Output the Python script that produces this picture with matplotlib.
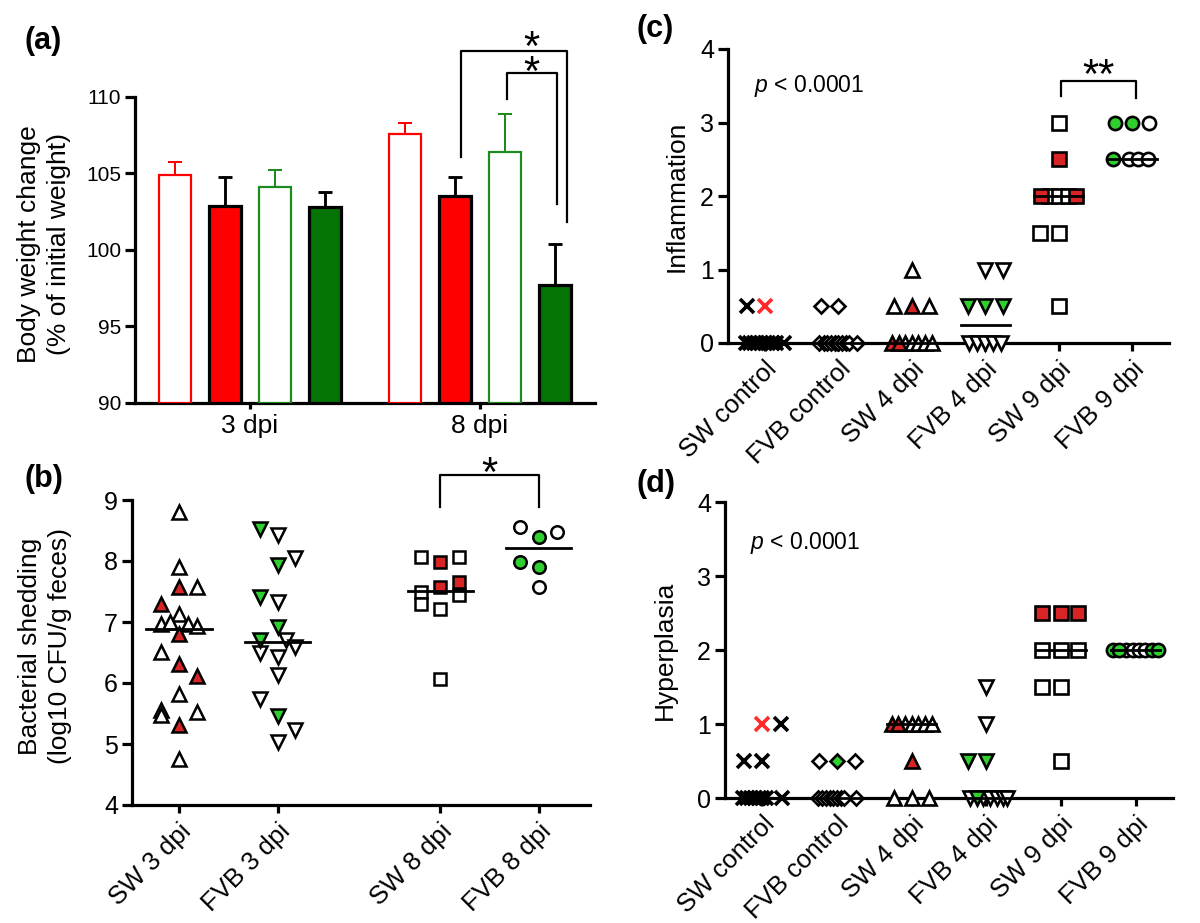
import numpy as np
import matplotlib
matplotlib.use("Agg")
import matplotlib.pyplot as plt

plt.rcParams["font.family"] = ["Liberation Sans", "DejaVu Sans"]
plt.rcParams["mathtext.fontset"] = "custom"
plt.rcParams["mathtext.rm"] = "Liberation Sans"
plt.rcParams["mathtext.it"] = "Liberation Sans:italic"

# (a) body weight change, mean and upper error per group
a_groups = ["3 dpi", "8 dpi"]
a_sw_open = [104.9, 107.6]
a_sw_open_err = [0.85, 0.7]
a_sw_fill = [102.9, 103.5]
a_sw_fill_err = [1.9, 1.3]
a_fvb_open = [104.1, 106.4]
a_fvb_open_err = [1.1, 2.5]
a_fvb_fill = [102.8, 97.7]
a_fvb_fill_err = [1.0, 2.7]

# (b) bacterial shedding: values, jitter, filled flag
b_labels = ["SW 3 dpi", "FVB 3 dpi", "SW 8 dpi", "FVB 8 dpi"]
b_sw3 = [8.80, 7.90, 7.57, 7.57, 7.30, 7.13, 6.97, 7.00, 6.97, 6.93,
         6.80, 6.51, 6.31, 6.11, 5.82, 5.55, 5.47, 5.52, 5.31, 4.75]
b_sw3_jit = [0, 0, 0, .18, -.18, 0, -.18, -.09, .09, .18,
             0, -.18, 0, .18, 0, -.18, -.18, .18, 0, 0]
b_sw3_col = [0, 0, 1, 0, 1, 0, 0, 0, 0, 0, 1, 0, 1, 1, 0, 0, 0, 0, 1, 0]
b_fvb3 = [8.52, 8.43, 8.05, 7.93, 7.41, 7.33, 6.92, 6.71, 6.70, 6.59,
          6.50, 6.43, 6.13, 5.74, 5.46, 5.23, 5.03]
b_fvb3_jit = [-.18, 0, .18, 0, -.18, 0, 0, -.18, .09, .18,
              -.18, 0, 0, -.18, 0, .18, 0]
b_fvb3_col = [1, 0, 0, 1, 1, 0, 1, 1, 0, 0, 0, 0, 0, 0, 1, 0, 0]
b_sw8 = [8.07, 7.98, 8.07, 7.66, 7.57, 7.49, 7.44, 7.30, 7.21, 6.07]
b_sw8_jit = [-.19, 0, .19, .19, 0, -.19, .19, -.19, 0, 0]
b_sw8_col = [0, 1, 0, 1, 1, 0, 0, 0, 0, 0]
b_fvb8 = [8.56, 8.39, 8.48, 7.98, 7.90, 7.57]
b_fvb8_jit = [-.19, 0, .19, -.19, 0, 0]
b_fvb8_col = [0, 1, 0, 1, 1, 0]
b_median = [6.88, 6.67, 7.51, 8.21]

# (c)/(d) histology scores per group
cd_labels = ["SW control", "FVB control", "SW 4 dpi", "FVB 4 dpi", "SW 9 dpi", "FVB 9 dpi"]
c_vals = [
    [0.5, 0.5, 0, 0, 0, 0, 0, 0, 0, 0, 0, 0],
    [0.5, 0.5, 0, 0, 0, 0, 0, 0, 0, 0, 0, 0],
    [1.0, 0.5, 0.5, 0.5, 0, 0, 0, 0, 0, 0, 0],
    [1.0, 1.0, 0.5, 0.5, 0.5, 0, 0, 0, 0, 0],
    [3.0, 2.5, 2.0, 2.0, 2.0, 2.0, 2.0, 1.5, 1.5, 0.5],
    [3.0, 3.0, 3.0, 2.5, 2.5, 2.5, 2.5],
]
c_jit = [
    [-.24, 0, -.26, -.2, -.15, -.1, -.05, 0, .05, .1, .15, .26],
    [-.24, 0, -.26, -.2, -.15, -.1, -.05, 0, .05, .1, .15, .26],
    [0, -.24, 0, .24, -.27, -.18, -.09, 0, .09, .18, .27],
    [0, .24, -.24, 0, .24, -.22, -.11, 0, .11, .22],
    [0, 0, -.24, -.12, 0, .12, .24, -.25, 0, 0],
    [-.24, 0, .23, -.26, -.05, .08, .22],
]
c_col = [
    [0, 1, 0, 0, 0, 0, 0, 0, 0, 0, 0, 0],
    [0, 0, 0, 0, 0, 0, 0, 0, 0, 0, 0, 0],
    [0, 0, 1, 0, 1, 1, 0, 0, 0, 0, 0],
    [0, 0, 1, 1, 1, 0, 0, 0, 0, 0],
    [0, 1, 1, 0, 0, 0, 1, 0, 0, 0],
    [1, 1, 0, 1, 0, 0, 0],
]
c_median = [0, 0, 0, 0.25, 2.0, 2.5]

d_vals = [
    [1.0, 1.0, 0.5, 0.5, 0, 0, 0, 0, 0, 0, 0, 0],
    [0.5, 0.5, 0.5, 0, 0, 0, 0, 0, 0, 0, 0, 0],
    [1.0, 1.0, 1.0, 1.0, 1.0, 1.0, 1.0, 0.5, 0, 0, 0],
    [1.5, 1.0, 0.5, 0.5, 0, 0, 0, 0, 0, 0, 0],
    [2.5, 2.5, 2.5, 2.0, 2.0, 2.0, 1.5, 1.5, 0.5],
    [2.0, 2.0, 2.0, 2.0, 2.0, 2.0, 2.0, 2.0],
]
d_jit = [
    [0, .25, -.24, 0, -.26, -.2, -.15, -.1, -.05, 0, .05, .26],
    [-.24, 0, .24, -.26, -.2, -.15, -.1, -.05, 0, .05, .1, .26],
    [-.27, -.18, -.09, 0, .09, .18, .27, 0, -.24, 0, .23],
    [0, 0, -.25, 0, -.22, -.13, -.04, .05, .14, .22, .28],
    [-.25, 0, .23, -.25, 0, .23, -.25, 0, 0],
    [-.3, -.22, -.13, -.04, .04, .13, .22, .3],
]
d_col = [
    [1, 0, 0, 0, 0, 0, 0, 0, 0, 0, 0, 0],
    [0, 1, 0, 0, 0, 0, 0, 0, 0, 0, 0, 0],
    [1, 1, 0, 0, 0, 0, 0, 1, 0, 0, 0],
    [0, 0, 1, 1, 0, 1, 0, 0, 0, 0, 0],
    [1, 1, 1, 0, 0, 0, 0, 0, 0],
    [1, 1, 0, 0, 0, 0, 1, 1],
]
d_median = [0, 0, 1.0, 0, 2.0, 2.0]

RED_BAR = "#ff0000"
GREEN_EDGE = "#1f8a1f"
GREEN_BAR = "#047404"
RED_DOT = "#d82424"
GREEN_DOT = "#2fcf2f"
RED_X = "#ff2a2a"
LW = 2.3


def style(ax, ysize, xsize, xlen=5):
    for s in ("top", "right"):
        ax.spines[s].set_visible(False)
    for s in ("left", "bottom"):
        ax.spines[s].set_linewidth(LW)
    ax.tick_params(axis="y", direction="out", length=7, width=LW, labelsize=ysize, pad=3)
    ax.tick_params(axis="x", direction="out", length=xlen, width=LW, labelsize=xsize, pad=4)


def dots(ax, x, vals, jit, col, marker, fill, ms, mew=1.8):
    # open markers first, filled ones on top
    for f in (0, 1):
        for v, j, c in zip(vals, jit, col):
            if c != f:
                continue
            if marker == "x":
                ax.plot(x + j, v, ls="none", marker="x", ms=ms, mew=2.6,
                        color=RED_X if c else "black", clip_on=False, zorder=5 + c)
            else:
                ax.plot(x + j, v, ls="none", marker=marker, ms=ms, mew=mew,
                        mfc=fill if c else "white", mec="black", clip_on=False, zorder=5 + c)


def median(ax, x, m, half=0.33):
    ax.plot([x - half, x + half], [m, m], color="black", lw=2, zorder=8, clip_on=False)


def star(ax, x, y, s, size=30, spacing=1.0):
    # y is the centre of the (lowest) asterisk glyph
    ax.annotate(s, xy=(x, y), xytext=(0, -0.57 * size), textcoords="offset points",
                ha="center", va="baseline", fontsize=size, annotation_clip=False,
                linespacing=spacing)


def bracket(ax, x0, x1, top, y0, y1):
    ax.plot([x0, x0, x1, x1], [y0, top, top, y1], color="black", lw=1.6, clip_on=False)


fig = plt.figure(figsize=(12, 9.23), dpi=100)
W, H = 1200, 923


def box(l, r, t, b):
    return [l / W, 1 - b / H, (r - l) / W, (b - t) / H]


# ---- (a)
ax = fig.add_axes(box(135, 595, 97, 403))
xa = np.arange(len(a_groups))
off = [-0.326, -0.109, 0.109, 0.326]
bw = 0.14
series = [
    (a_sw_open, a_sw_open_err, "white", RED_BAR, RED_BAR, 1.6),
    (a_sw_fill, a_sw_fill_err, RED_BAR, "black", "black", LW),
    (a_fvb_open, a_fvb_open_err, "white", GREEN_EDGE, GREEN_EDGE, 1.6),
    (a_fvb_fill, a_fvb_fill_err, GREEN_BAR, "black", "black", LW),
]
for o, (m, e, fc, ec, erc, lw) in zip(off, series):
    ax.bar(xa + o, np.array(m) - 90, bw, bottom=90, color=fc, edgecolor=ec, linewidth=lw, zorder=3)
    ax.errorbar(xa + o, m, yerr=[np.zeros(len(e)), e], fmt="none", ecolor=erc,
                elinewidth=lw * 0.9, capsize=5, capthick=lw * 0.9, zorder=2)
ax.set_xlim(-0.5, 1.5)
ax.set_ylim(90, 110)
ax.set_yticks([90, 95, 100, 105, 110])
ax.set_xticks(xa)
ax.set_xticklabels(a_groups)
style(ax, 15, 19, xlen=4)
ax.tick_params(axis="x", pad=4)
bracket(ax, 0.916, 1.378, 113.0, 106.1, 101.85)
bracket(ax, 1.118, 1.336, 111.55, 109.85, 103.0)
# both asterisks in one text, one above the other
star(ax, 1.225, 112.35, "*\n*", spacing=0.5)

# ---- (b)
ax = fig.add_axes(box(132, 590, 500, 805))
xb = [0, 1, 2.65, 3.65]
groups_b = [
    (b_sw3, b_sw3_jit, b_sw3_col, "^", RED_DOT),
    (b_fvb3, b_fvb3_jit, b_fvb3_col, "v", GREEN_DOT),
    (b_sw8, b_sw8_jit, b_sw8_col, "s", RED_DOT),
    (b_fvb8, b_fvb8_jit, b_fvb8_col, "o", GREEN_DOT),
]
for x, (v, j, c, mk, fill), m in zip(xb, groups_b, b_median):
    dots(ax, x, v, j, c, mk, fill, 9.5 if mk in "^v" else 9)
    median(ax, x, m)
ax.set_xlim(-0.477, 4.17)
ax.set_ylim(4, 9)
ax.set_xticks(xb)
ax.set_xticklabels(b_labels, rotation=45, ha="right", rotation_mode="anchor")
style(ax, 18, 18.5, xlen=6)
bracket(ax, 2.65, 3.65, 9.41, 8.89, 8.89)
star(ax, 3.15, 9.62, "*")

# ---- (c) and (d)
markers = ["x", "D", "^", "v", "s", "o"]
fills = ["black", GREEN_DOT, RED_DOT, GREEN_DOT, RED_DOT, GREEN_DOT]
sizes = [9.5, 7.5, 10, 10, 10, 9.5]
for rect, vals, jit, col, meds, ylab, ypos, ptxt in [
    (box(728, 1169, 49, 343), c_vals, c_jit, c_col, c_median, "Inflammation", (684, 196), (-0.15, 3.41)),
    (box(725, 1173, 502, 798), d_vals, d_jit, d_col, d_median, "Hyperplasia", (672, 650), (-0.17, 3.36)),
]:
    ax = fig.add_axes(rect)
    for i in range(len(cd_labels)):
        dots(ax, i, vals[i], jit[i], col[i], markers[i], fills[i], sizes[i], mew=1.9)
        median(ax, i, meds[i])
    ax.set_xlim(-0.5, 5.5)
    ax.set_ylim(0, 4)
    ax.set_xticks(range(len(cd_labels)))
    ax.set_xticklabels(cd_labels, rotation=45, ha="right", rotation_mode="anchor")
    style(ax, 18, 18.5, xlen=6)
    ax.text(ptxt[0], ptxt[1], r"$\it{p}$ < 0.0001", fontsize=16.5, ha="left", va="baseline")
    fig.text(ypos[0] / W, 1 - ypos[1] / H, ylab, rotation=90, fontsize=19,
             ha="center", va="baseline", rotation_mode="anchor")
    if ylab == "Inflammation":
        bracket(ax, 4.03, 5.05, 3.57, 3.36, 3.34)
        star(ax, 4.54, 3.79, "**")

# y labels for (a), (b)
fig.text(44 / W, 1 - 244 / H, "Body weight change\n(% of initial weight)", rotation=90,
         fontsize=19, ha="center", va="center", multialignment="center", linespacing=1.3)
fig.text(45 / W, 1 - 646 / H, "Bacterial shedding\n(log10 CFU/g feces)", rotation=90,
         fontsize=19, ha="center", va="center", multialignment="center", linespacing=1.3)

# panel letters
for lab, x, y in [("(a)", 24, 49), ("(b)", 24, 487), ("(c)", 636, 37), ("(d)", 636, 492)]:
    fig.text(x / W, 1 - y / H, lab, fontsize=22, fontweight="bold", ha="left", va="baseline")

fig.savefig("out.png", dpi=100, facecolor="white")
